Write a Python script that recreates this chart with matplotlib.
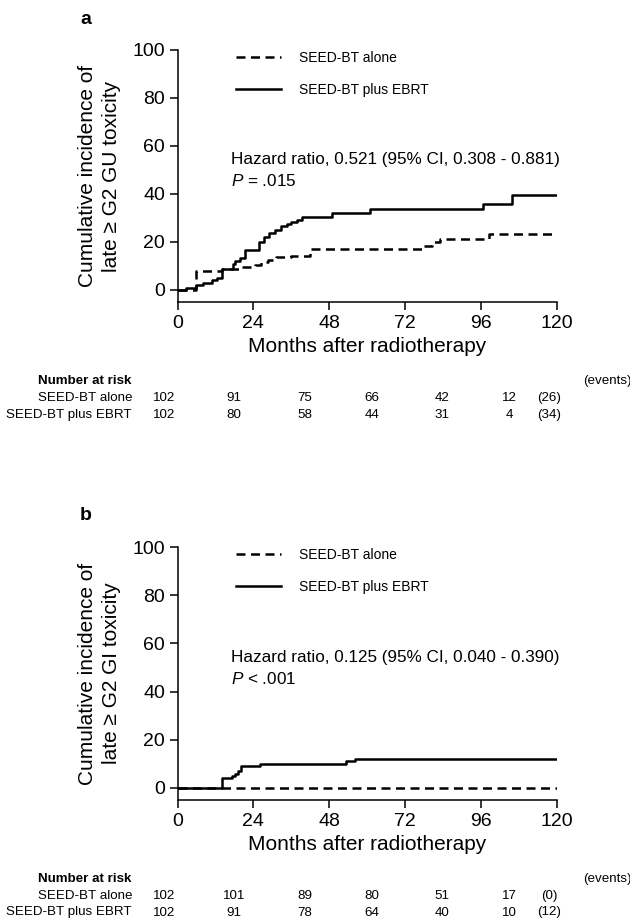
import matplotlib
matplotlib.use("Agg")
import matplotlib.pyplot as plt
from matplotlib.lines import Line2D

plt.rcParams['font.family'] = ['Liberation Sans', 'DejaVu Sans']
plt.rcParams['mathtext.fontset'] = 'custom'
plt.rcParams['mathtext.it'] = 'Liberation Sans:italic'
plt.rcParams['mathtext.rm'] = 'Liberation Sans'

# ---------------- data ----------------
month_ticks = [0, 24, 48, 72, 96, 120]
y_ticks = [0, 20, 40, 60, 80, 100]
group_names = ["SEED-BT alone", "SEED-BT plus EBRT"]

gu_alone_t = [0, 6, 14, 20, 24.5, 26.5, 28.5, 31, 36, 42, 77.5, 80.5, 83, 98.5, 120]
gu_alone_v = [0, 8.0, 8.8, 9.5, 10.6, 11.6, 12.7, 13.8, 14.3, 17.2, 18.3, 20.0, 21.1, 23.3, 23.3]

gu_ebrt_t = [0, 2.7, 6, 8, 11, 12.5, 14, 17.6, 18.2, 19.7, 21.5, 25.8, 27.4, 28.9, 30.8,
             32.7, 34.5, 35.9, 37.7, 39.3, 48.8, 60.8, 96.7, 105.8, 120]
gu_ebrt_v = [0, 1.0, 2.0, 3.0, 4.0, 5.0, 8.7, 10.9, 12.0, 13.4, 16.7, 19.8, 22.0, 23.8, 25.2,
             26.5, 27.3, 28.3, 29.3, 30.6, 32.2, 33.6, 35.8, 39.4, 39.4]

gi_alone_t = [0, 120]
gi_alone_v = [0, 0]

gi_ebrt_t = [0, 14.1, 17.1, 18.2, 19.2, 20.0, 26.1, 53.2, 56.1, 120]
gi_ebrt_v = [0, 4.0, 5.0, 5.9, 6.9, 9.0, 10.0, 11.0, 12.1, 12.1]

gu_risk_alone = ["102", "91", "75", "66", "42", "12"]
gu_risk_ebrt = ["102", "80", "58", "44", "31", "4"]
gu_events = ["(26)", "(34)"]

gi_risk_alone = ["102", "101", "89", "80", "51", "17"]
gi_risk_ebrt = ["102", "91", "78", "64", "40", "10"]
gi_events = ["(0)", "(12)"]

gu_hr = "Hazard ratio, 0.521 (95% CI, 0.308 - 0.881)"
gu_p = "$P$ = .015"
gi_hr = "Hazard ratio, 0.125 (95% CI, 0.040 - 0.390)"
gi_p = "$P$ < .001"

gu_ylabel = "Cumulative incidence of\nlate \u2265 G2 GU toxicity"
gi_ylabel = "Cumulative incidence of\nlate \u2265 G2 GI toxicity"

# ---------------- layout ----------------
W, H = 630, 924
fig = plt.figure(figsize=(W / 100, H / 100), dpi=100)

def fx(px):
    return px / W

def fy(py):
    return 1 - py / H

col_px = [164, 234, 305, 372, 442, 509]
events_px = 549

def panel(top_px, bottom_px, letter, alone_t, alone_v, ebrt_t, ebrt_v,
          hr, ptxt, ylabel, risk_alone, risk_ebrt, events, table_top_px):
    ax = fig.add_axes([fx(177.5), fy(bottom_px), fx(557) - fx(177.5), fy(top_px) - fy(bottom_px)])
    ax.step(alone_t, alone_v, where='post', color='black', lw=1.8,
            linestyle=(0, (3.6, 2.2)))
    ax.step(ebrt_t, ebrt_v, where='post', color='black', lw=1.8)
    ax.set_xlim(0, 120)
    ax.set_ylim(-5, 100)
    ax.set_xticks(month_ticks)
    ax.set_yticks(y_ticks)
    ax.tick_params(axis='both', labelsize=14, length=6, width=1.1, direction='out', pad=3)
    for s in ['top', 'right']:
        ax.spines[s].set_visible(False)
    for s in ['left', 'bottom']:
        ax.spines[s].set_linewidth(1.1)
    ax.set_xlabel("Months after radiotherapy", fontsize=15, labelpad=4)
    ax.set_ylabel(ylabel, fontsize=15, labelpad=8, linespacing=1.35)

    handles = [Line2D([], [], color='black', lw=1.8, linestyle=(0, (3.6, 2.2))),
               Line2D([], [], color='black', lw=1.8)]
    ax.legend(handles, group_names, loc='upper left', bbox_to_anchor=(0.155, 0.995),
              frameon=False, fontsize=10, handlelength=3.2, handletextpad=1.3,
              labelspacing=1.25, borderpad=0, borderaxespad=0)

    ax.text(17.0, 54.2, hr, fontsize=12.3, va='center', ha='left')
    ax.text(17.0, 45.3, ptxt, fontsize=12.3, va='center', ha='left')

    fig.text(fx(86), fy(top_px - 31), letter, fontsize=14, fontweight='bold',
             ha='center', va='center')

    # number at risk table
    y0 = table_top_px
    fig.text(fx(131), fy(y0), "Number at risk", fontsize=9.6, fontweight='bold',
             ha='right', va='center')
    fig.text(fx(583), fy(y0), "(events)", fontsize=9.6, ha='left', va='center')
    for row, (name, vals, ev) in enumerate(zip(group_names, [risk_alone, risk_ebrt], events)):
        yy = fy(y0 + 17 + 16.5 * row)
        fig.text(fx(132), yy, name, fontsize=9.6, ha='right', va='center')
        for xp, v in zip(col_px, vals):
            fig.text(fx(xp), yy, v, fontsize=9.6, ha='center', va='center')
        fig.text(fx(events_px), yy, ev, fontsize=9.6, ha='center', va='center')
    return ax

panel(50, 302, "a", gu_alone_t, gu_alone_v, gu_ebrt_t, gu_ebrt_v,
      gu_hr, gu_p, gu_ylabel, gu_risk_alone, gu_risk_ebrt, gu_events, 381)
panel(547, 800, "b", gi_alone_t, gi_alone_v, gi_ebrt_t, gi_ebrt_v,
      gi_hr, gi_p, gi_ylabel, gi_risk_alone, gi_risk_ebrt, gi_events, 879)

fig.savefig("out.png", dpi=100, facecolor='white')
